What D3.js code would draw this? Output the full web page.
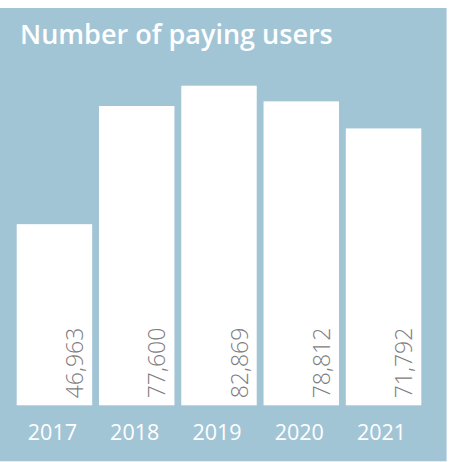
<!DOCTYPE html>
<html>
<head>
<meta charset="utf-8">
<script src="https://cdn.jsdelivr.net/npm/d3@7"></script>
<style>
  html, body { margin: 0; padding: 0; background: #ffffff; }
  svg { display: block; }
</style>
</head>
<body>
<svg id="chart" width="449" height="462"></svg>
<script>
const title = "Number of paying users";
const years = ["2017", "2018", "2019", "2020", "2021"];
const users = [46963, 77600, 82869, 78812, 71792];

const svg = d3.select("#chart");
const bg = "#a2c5d6";
const font = "'Open Sans', sans-serif";

svg.append("rect")
  .attr("x", 0).attr("y", 8)
  .attr("width", 446.6).attr("height", 453.3)
  .attr("fill", bg);

const t = svg.append("text")
  .attr("x", 20).attr("y", 44)
  .attr("fill", "#ffffff")
  .attr("font-family", font)
  .attr("font-weight", 600)
  .attr("font-size", 23)
  .text(title);
// fit title width to reference (~313px)
const tw = t.node().getComputedTextLength();
t.attr("font-size", 23 * 313 / tw);

const x = d3.scaleBand()
  .domain(years)
  .range([16.7, 421.3])
  .paddingInner(0.083)
  .paddingOuter(0);

const y = d3.scaleLinear()
  .domain([0, d3.max(users)])
  .range([405.3, 85.7]);

const data = years.map((yr, i) => ({ year: yr, value: users[i] }));

svg.selectAll("rect.bar")
  .data(data)
  .join("rect")
  .attr("class", "bar")
  .attr("x", d => x(d.year))
  .attr("y", d => y(d.value))
  .attr("width", x.bandwidth())
  .attr("height", d => y(0) - y(d.value))
  .attr("fill", "#ffffff");

svg.selectAll("text.val")
  .data(data)
  .join("text")
  .attr("class", "val")
  .attr("transform", d => `translate(${x(d.year) + x.bandwidth() - 9},${y(0) - 7}) rotate(-90)`)
  .attr("text-anchor", "start")
  .attr("fill", "#7d7d7d")
  .attr("font-family", font)
  .attr("font-weight", 300)
  .attr("font-size", 23)
  .text(d => d3.format(",")(d.value));

svg.selectAll("text.year")
  .data(data)
  .join("text")
  .attr("class", "year")
  .attr("x", d => x(d.year) + x.bandwidth() / 2 - 2)
  .attr("y", 440)
  .attr("text-anchor", "middle")
  .attr("fill", "#ffffff")
  .attr("font-family", font)
  .attr("font-weight", 400)
  .attr("font-size", 21.5)
  .text(d => d.year);
</script>
</body>
</html>
